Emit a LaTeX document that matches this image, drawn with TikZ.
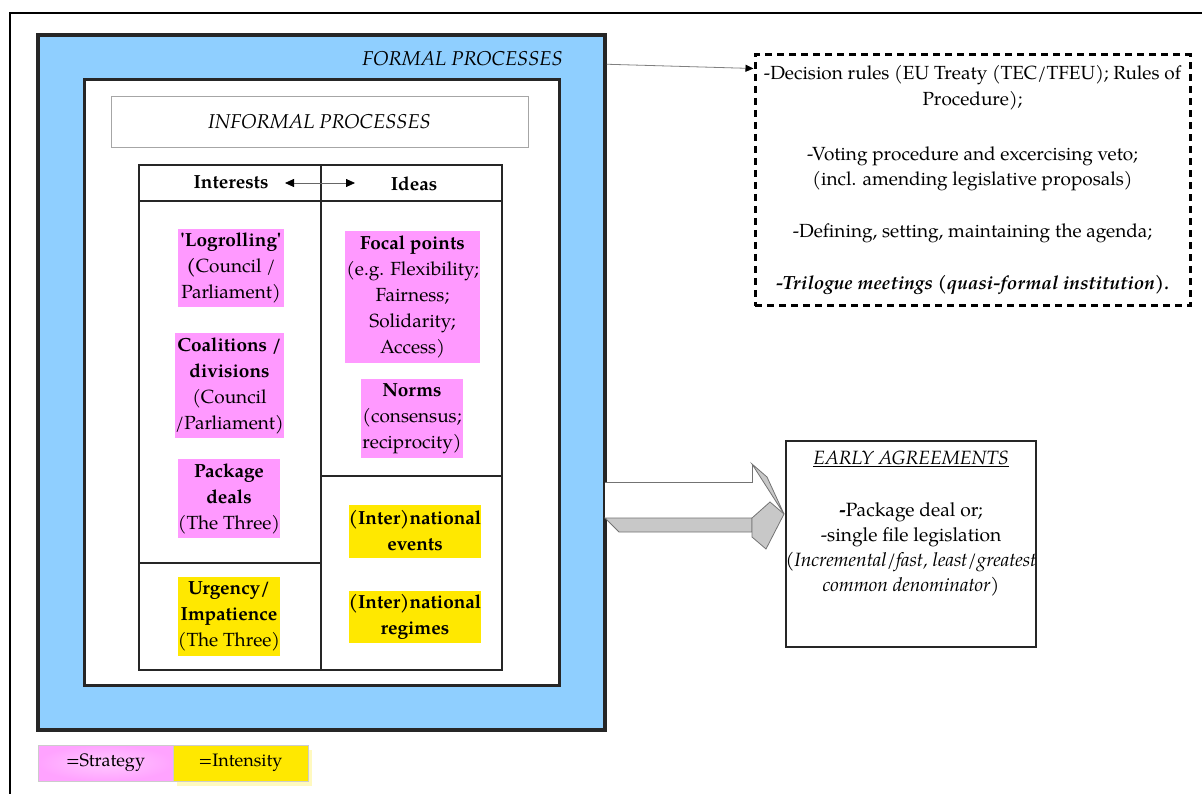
\documentclass[tikz,border=0pt]{standalone}
\usepackage{fontspec}
\setmainfont{TeX Gyre Pagella}
\newfontfamily\plainq{TeX Gyre Pagella}[Ligatures=ResetAll]
\usetikzlibrary{arrows.meta,shadows}
\definecolor{fblue}{RGB}{143,207,255}
\definecolor{spink}{RGB}{255,153,255}
\definecolor{syellow}{RGB}{255,232,0}
\definecolor{lpink}{RGB}{255,200,255}
\definecolor{arrgray}{RGB}{200,200,200}
\newcommand{\sq}{{\plainq\bfseries\symbol{39}}}
\tikzset{
  frameline/.style={line width=2pt, black},
  formalbox/.style={draw=black!85, line width=3.5pt, fill=fblue, inner sep=0pt},
  innerbox/.style={draw=black!85, line width=3pt, fill=white, inner sep=0pt},
  titlebox/.style={draw=black!35, line width=0.8pt, fill=white, inner sep=0pt,
    font=\fontsize{20}{24}\selectfont\itshape},
  tline/.style={line width=1.3pt, black!85},
  hdr/.style={font=\fontsize{19}{22}\selectfont\bfseries, inner sep=0pt},
  cellbox/.style={inner sep=0pt, align=center, font=\fontsize{19}{26}\selectfont},
  pinkbox/.style={cellbox, fill=spink},
  yellowbox/.style={cellbox, fill=syellow},
  rulesbox/.style={draw=black, line width=3pt, dash pattern=on 7pt off 5pt,
    inner sep=0pt, align=center, font=\fontsize{19}{25.5}\selectfont},
  eabox/.style={draw=black!85, line width=1.5pt, fill=white, inner sep=0pt},
  eatext/.style={inner sep=0pt, align=center, font=\fontsize{19.2}{25}\selectfont},
  legendbox/.style={draw=black!20, line width=0.8pt, inner sep=0pt,
    minimum width=135pt, minimum height=36pt, font=\fontsize{18}{22}\selectfont},
  blockface/.style={draw=black!55, line width=0.8pt}
}
\begin{document}
\begin{tikzpicture}[x=1pt,y=-1pt]
\useasboundingbox (0,0) rectangle (1202,794);
% outer frame (top and left edges visible)
\draw[frameline] (10,794) -- (10,13) -- (1202,13);

% formal processes
\node[formalbox, minimum width=567pt, minimum height=695pt] (formal) at (321.5,382.5) {};
\node[anchor=east, inner sep=0pt, font=\fontsize{20}{24}\selectfont\itshape] (formallabel) at (563,59) {FORMAL PROCESSES};

% informal processes
\node[innerbox, minimum width=475pt, minimum height=605pt] (informal) at (321.5,382.5) {};
\node[titlebox, minimum width=417pt, minimum height=51pt] (inftitle) at (319.5,121.5) {INFORMAL PROCESSES};

% table
\node[draw=black!85, line width=1.3pt, inner sep=0pt, minimum width=363pt, minimum height=505pt] (tbl) at (320.5,417.5) {};
\draw[tline] (139,201) -- (502,201);
\draw[tline] (321,165) -- (321,670);
\draw[tline] (139,563) -- (321,563);
\draw[tline] (321,476) -- (502,476);

\node[hdr] (interests) at (231,182) {Interests};
\node[hdr] (ideas) at (414,184) {Ideas};
\coordinate (ha) at (285,183);
\coordinate (hb) at (355,183);
\draw[black!60, line width=0.8pt, {Triangle[length=9pt,width=8pt,black]}-{Triangle[length=9pt,width=8pt,black]}] (ha) -- (hb);

% strategy cells
\node[pinkbox, minimum width=106pt, minimum height=78pt] (logroll) at (231,268)
  {\textbf{\sq Logrolling\sq}\\\textbf{(}Council /\\Parliament)};
\node[pinkbox, minimum width=107pt, minimum height=105pt] (coal) at (229.5,385.5)
  {\textbf{Coalitions /}\\\textbf{divisions}\\(Council\\/Parliament)};
\node[pinkbox, minimum width=98pt, minimum height=79pt] (pack) at (229,498.5)
  {\textbf{Package}\\\textbf{deals}\\(The Three)};
\node[pinkbox, minimum width=135pt, minimum height=131pt] (focal) at (412.5,297)
  {\textbf{Focal points}\\(e.g. Flexibility;\\Fairness;\\Solidarity;\\Access)};
\node[pinkbox, minimum width=102pt, minimum height=79pt] (norms) at (412,418.5)
  {\textbf{Norms}\\(consensus;\\reciprocity)};

% intensity cells
\node[yellowbox, minimum width=98pt, minimum height=79pt] (urg) at (229,616.5)
  {\textbf{Urgency/}\\\textbf{Impatience}\\(The Three)};
\node[yellowbox, minimum width=132pt, minimum height=53pt] (events) at (415,531)
  {\textbf{(Inter)national}\\\textbf{events}};
\node[yellowbox, minimum width=132pt, minimum height=52pt] (regimes) at (415,616.5)
  {\textbf{(Inter)national}\\\textbf{regimes}};

% formal rules box
\node[rulesbox, minimum width=435pt, minimum height=251pt] (rules) at (972.5,180.5)
  {-Decision rules (EU Treaty (TEC/TFEU); Rules of\\Procedure);\\[29.5pt]
   -Voting procedure and excercising veto;\\(incl. amending legislative proposals)\\[26.5pt]
   -Defining, setting, maintaining the agenda;\\[26.5pt]
   \textbf{\textit{-Trilogue meetings (quasi-formal institution).}}};
\coordinate (la) at ([yshift=-31pt]formal.north east);
\coordinate (lb) at ([yshift=-15pt]rules.north west);
\draw[black!50, line width=0.8pt, -{Triangle[length=8pt,width=7pt,black]}] (la) -- (lb);

% block arrow
\fill[white] (605,482) -- (752,482) -- (752,464) -- (784,514) -- (752,518) -- (605,518) -- cycle;
\draw[blockface] (605,482) -- (752,482) -- (752,464);
\draw[blockface, fill=arrgray] (752,464) -- (767,477) -- (784,514) -- cycle;
\draw[blockface, fill=arrgray] (605,518) -- (752,518) -- (752,532) -- (619,532) -- cycle;
\draw[blockface, fill=arrgray] (752,518) -- (770,502) -- (784,514) -- (766,549) -- (752,537) -- cycle;

% early agreements
\node[eabox, minimum width=250pt, minimum height=206pt] (ea) at (911,544) {};
\node[eatext] (eatxt) at (911,524)
  {\underline{\textit{EARLY AGREEMENTS}}\\[27pt]
   \textbf{-}Package deal or;\\-single file legislation\\
   \textit{(Incremental/fast, least/greatest}\\\textit{common denominator)}};

% legend
\node[legendbox, inner color=lpink, outer color=spink!90] (lstrat) at (105.5,763) {=Strategy};
\node[legendbox, fill=syellow, general shadow={fill=syellow!25, shadow xshift=4pt, shadow yshift=-5pt}] (linten) at (240.5,763) {=Intensity};
\end{tikzpicture}
\end{document}
